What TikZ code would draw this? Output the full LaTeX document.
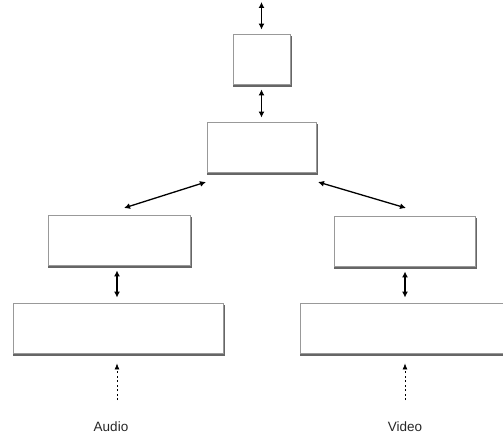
\documentclass[tikz,border=0pt]{standalone}
\usepackage{fontspec}
\setmainfont{Liberation Sans}
\usetikzlibrary{arrows.meta,backgrounds}
\begin{document}
\begin{tikzpicture}[x=1pt,y=-1pt,
  blk/.style={draw=black!40,line width=0.9pt,fill=white,rectangle,inner sep=0pt},
  shd/.style={fill=black!60},
  dbl/.style={line width=1.3pt,{Latex[length=6pt,width=6pt]}-{Latex[length=6pt,width=6pt]}},
  feed/.style={line width=0.7pt,dash pattern=on 2pt off 2.5pt,-{Latex[length=6pt,width=5pt]}},
  lbl/.style={font=\fontsize{13.5pt}{15pt}\selectfont,text=black!85}]
\useasboundingbox (0,0) rectangle (503,436);
\clip (0,0) rectangle (503,436);
\node[blk,minimum width=57pt,minimum height=50pt] (top) at (261.5,59) {};
\node[blk,minimum width=109pt,minimum height=50pt] (mid) at (261.5,147) {};
\node[blk,minimum width=142pt,minimum height=50pt] (la) at (119,240) {};
\node[blk,minimum width=141pt,minimum height=50pt] (ra) at (404.5,241) {};
\node[blk,minimum width=210pt,minimum height=50pt] (lb) at (118,328) {};
\node[blk,minimum width=212pt,minimum height=50pt] (rb) at (406,328) {};
\begin{scope}[on background layer]
\foreach \n in {top,mid,la,ra,lb,rb}
  \fill[shd] ([xshift=0pt,yshift=-3pt]\n.south west) rectangle ([xshift=1.5pt,yshift=-2pt]\n.north east);
\end{scope}
\coordinate (in) at (261.5,2);
\coordinate (ml) at (206,182);
\coordinate (al) at (124,208);
\coordinate (mr) at (318,182);
\coordinate (ar) at (406,208);
\node[lbl] (audio) at (111,427) {Audio};
\node[lbl] (video) at (405,427) {Video};
\coordinate (asrc) at (117,400);
\coordinate (vsrc) at (405,400);
\draw[dbl] (in) -- ([yshift=4pt]top.north);
\draw[dbl] ([yshift=-5pt]top.south) -- ([yshift=4pt]mid.north);
\draw[dbl] (ml) -- (al);
\draw[dbl] (mr) -- (ar);
\draw[dbl] ([yshift=-5pt]la.south -| 117,0) -- ([yshift=5pt]lb.north -| 117,0);
\draw[dbl] ([yshift=-5pt]ra.south -| 405,0) -- ([yshift=5pt]rb.north -| 405,0);
\draw[feed] (asrc) -- ([yshift=-10pt]lb.south -| asrc);
\draw[feed] (vsrc) -- ([yshift=-10pt]rb.south -| vsrc);
\end{tikzpicture}
\end{document}
